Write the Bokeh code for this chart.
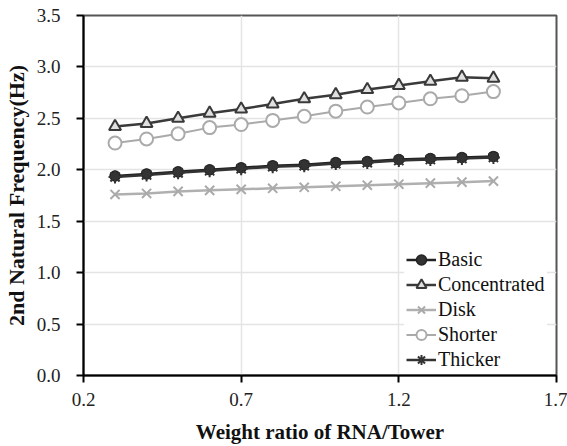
from bokeh.plotting import figure
from bokeh.models import Range1d, FixedTicker, NumeralTickFormatter, Legend, LegendItem
from bokeh.embed import file_html
from bokeh.resources import INLINE

ratio = [0.3, 0.4, 0.5, 0.6, 0.7, 0.8, 0.9, 1.0, 1.1, 1.2, 1.3, 1.4, 1.5]
basic = [1.94, 1.96, 1.98, 2.00, 2.02, 2.04, 2.05, 2.07, 2.08, 2.10, 2.11, 2.12, 2.13]
concentrated = [2.42, 2.45, 2.50, 2.55, 2.59, 2.64, 2.69, 2.73, 2.78, 2.82, 2.86, 2.90, 2.89]
disk = [1.76, 1.77, 1.79, 1.80, 1.81, 1.82, 1.83, 1.84, 1.85, 1.86, 1.87, 1.88, 1.89]
shorter = [2.26, 2.30, 2.35, 2.41, 2.44, 2.48, 2.52, 2.57, 2.61, 2.65, 2.69, 2.72, 2.76]
thicker = [1.93, 1.95, 1.97, 1.99, 2.01, 2.03, 2.04, 2.06, 2.07, 2.09, 2.10, 2.11, 2.12]
x_ticks = [0.2, 0.7, 1.2, 1.7]
y_ticks = [0.0, 0.5, 1.0, 1.5, 2.0, 2.5, 3.0, 3.5]

FONT = "Liberation Serif"

p = figure(width=567, height=446, output_backend="svg", toolbar_location=None,
           x_range=Range1d(0.2, 1.7), y_range=Range1d(0, 3.5),
           min_border_left=82, min_border_right=11, min_border_top=15, min_border_bottom=70)

p.outline_line_color = "#555555"
p.outline_line_width = 2

for ax in (p.xaxis[0], p.yaxis[0]):
    ax.axis_line_color = "black"
    ax.axis_line_width = 2
    ax.major_tick_line_color = "black"
    ax.major_tick_line_width = 2
    ax.minor_tick_line_color = None
    ax.major_tick_in = 0
    ax.major_tick_out = 7
    ax.major_label_text_font = FONT
    ax.major_label_text_font_size = "19px"
    ax.major_label_text_color = "#222222"
    ax.axis_label_text_font = FONT
    ax.axis_label_text_font_style = "bold"
    ax.axis_label_text_color = "#111111"
    ax.formatter = NumeralTickFormatter(format="0.0")

p.xaxis.ticker = FixedTicker(ticks=x_ticks)
p.yaxis.ticker = FixedTicker(ticks=y_ticks)
p.xaxis.major_label_standoff = 10
p.yaxis.major_label_standoff = 16
p.xaxis.axis_label = "Weight ratio of RNA/Tower"
p.yaxis.axis_label = "2nd Natural Frequency(Hz)"
p.xaxis.axis_label_text_font_size = "21px"
p.yaxis.axis_label_text_font_size = "22px"
p.xaxis.axis_label_standoff = 11
p.yaxis.axis_label_standoff = 5

p.xgrid.ticker = FixedTicker(ticks=x_ticks)
p.ygrid.ticker = FixedTicker(ticks=y_ticks)
p.xgrid.grid_line_color = "#e4e4e4"
p.ygrid.grid_line_color = "#e4e4e4"
p.xgrid.grid_line_width = 1.5
p.ygrid.grid_line_width = 1.5

items = []

# Basic
l1 = p.line(ratio, basic, line_color="#222222", line_width=2.5)
m1 = p.scatter(ratio, basic, marker="circle", size=10, fill_color="#333333",
               line_color="#222222", line_width=1.5)
items.append(LegendItem(label="Basic", renderers=[l1, m1]))

# Concentrated
l2 = p.line(ratio, concentrated, line_color="#3a3a3a", line_width=2.5)
m2 = p.scatter(ratio, concentrated, marker="triangle", size=12, fill_color="#e0e0e0",
               line_color="#3a3a3a", line_width=2)
items.append(LegendItem(label="Concentrated", renderers=[l2, m2]))

# Disk
l3 = p.line(ratio, disk, line_color="#b0b0b0", line_width=2.5)
m3 = p.scatter(ratio, disk, marker="x", size=13, line_color="#aaaaaa", line_width=2)
items.append(LegendItem(label="Disk", renderers=[l3, m3]))

# Shorter
l4 = p.line(ratio, shorter, line_color="#aaaaaa", line_width=2)
m4 = p.scatter(ratio, shorter, marker="circle", size=13, fill_color="white",
               line_color="#aaaaaa", line_width=2)
items.append(LegendItem(label="Shorter", renderers=[l4, m4]))

# Thicker
l5 = p.line(ratio, thicker, line_color="#333333", line_width=2.5)
m5 = p.scatter(ratio, thicker, marker="asterisk", size=13, line_color="#333333", line_width=2)
items.append(LegendItem(label="Thicker", renderers=[l5, m5]))

legend = Legend(items=items, location=(321, 1))
legend.label_text_font = FONT
legend.label_text_font_size = "20px"
legend.label_text_color = "#111111"
legend.background_fill_color = "white"
legend.background_fill_alpha = 1.0
legend.border_line_alpha = 0
legend.padding = 2
legend.spacing = 0
legend.margin = 0
legend.label_height = 25
legend.glyph_height = 25
legend.glyph_width = 30
legend.label_standoff = 2
p.add_layout(legend, "center")

open("out.html", "w").write(file_html(p, INLINE))
